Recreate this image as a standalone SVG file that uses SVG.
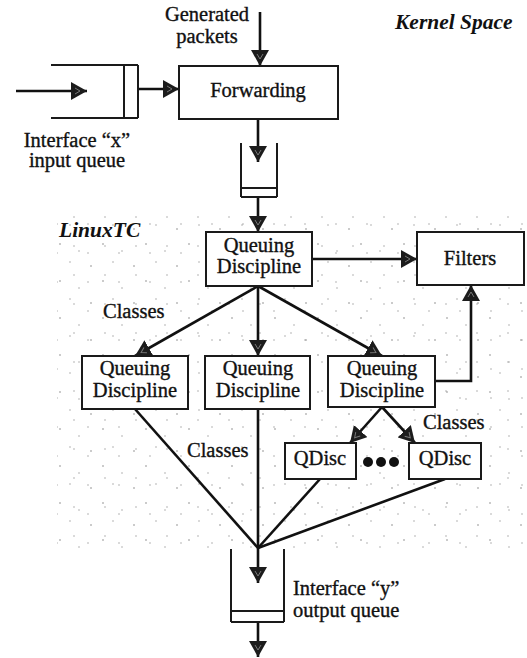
<svg xmlns="http://www.w3.org/2000/svg" width="527" height="658" viewBox="0 0 527 658">
  <style>
    .box { fill: #fff; stroke: #1a1a1a; stroke-width: 2; }
    .wire { fill: none; stroke: #111; stroke-width: 2.6; }
    .arrow { fill: none; stroke: #111; stroke-width: 2.6; marker-end: url(#head); }
    .qline { fill: none; stroke: #1a1a1a; stroke-width: 2; }
    .lbl { font-family: "Liberation Serif", "Times New Roman", serif; font-size: 20.5px; fill: #111; stroke: #111; stroke-width: 0.35; }
    .mid { text-anchor: middle; }
    .title { font-family: "Liberation Serif", "Times New Roman", serif; font-size: 21.5px; font-style: italic; font-weight: bold; fill: #111; }
  </style>
  <defs>
    <marker id="head" viewBox="0 0 16 18" refX="16" refY="9" markerWidth="16" markerHeight="18" markerUnits="userSpaceOnUse" orient="auto">
      <path d="M0,0 L16,9 L0,18 Z" fill="#1c1c1c"/>
      <path d="M4,6 L9,9 L4,12" fill="none" stroke="#777" stroke-width="1"/>
    </marker>
    <pattern id="stipA" width="43" height="37" patternUnits="userSpaceOnUse">
      <circle cx="5" cy="7" r="0.8" fill="#888"/>
      <circle cx="27" cy="3" r="0.7" fill="#999"/>
      <circle cx="17" cy="22" r="0.8" fill="#888"/>
      <circle cx="36" cy="29" r="0.7" fill="#999"/>
    </pattern>
    <pattern id="stipB" width="31" height="29" patternUnits="userSpaceOnUse">
      <circle cx="12" cy="14" r="0.7" fill="#999"/>
      <circle cx="26" cy="21" r="0.7" fill="#999"/>
    </pattern>
  </defs>

  <!-- speckled backdrop of the traffic-control area -->
  <g id="linuxtc-area">
    <rect x="57" y="215" width="470" height="338" fill="url(#stipA)"/>
    <rect x="57" y="215" width="470" height="338" fill="url(#stipB)"/>
  </g>

  <!-- titles -->
  <text class="title" x="395" y="29">Kernel Space</text>
  <text class="title" x="59" y="237">LinuxTC</text>

  <!-- connectors -->
  <g id="connectors">
    <path class="arrow" d="M16,91 H87"/>
    <path class="arrow" d="M138,89 H179"/>
    <path class="arrow" d="M260,12 V66"/>
    <path class="arrow" d="M258,119 V162"/>
    <path class="arrow" d="M258,197 V232"/>
    <path class="arrow" d="M312,259 H417"/>
    <path class="arrow" d="M258,286 L135,356"/>
    <path class="arrow" d="M258,286 V356"/>
    <path class="arrow" d="M258,286 L382,356"/>
    <path class="arrow" d="M435,381 H471 V285"/>
    <path class="arrow" d="M382,407 L350,443"/>
    <path class="arrow" d="M382,407 L415,443"/>
    <path class="wire" d="M135,409 L258,548"/>
    <path class="wire" d="M258,409 V548"/>
    <path class="wire" d="M320,479 L258,548"/>
    <path class="wire" d="M445,479 L258,548"/>
    <path class="arrow" d="M258,548 V583"/>
    <path class="arrow" d="M258,622 V657"/>
  </g>

  <!-- interface x input queue -->
  <g id="input-queue">
    <path class="qline" d="M51,65 H138 M51,118 H138 M124,65 V118 M138,65 V118"/>
    <text class="lbl mid" x="77" y="147">Interface “x”</text>
    <text class="lbl mid" x="77" y="167">input queue</text>
  </g>

  <g id="generated">
    <text class="lbl mid" x="207" y="21">Generated</text>
    <text class="lbl mid" x="207" y="43">packets</text>
  </g>

  <g id="forwarding">
    <rect class="box" x="179" y="66" width="159" height="53"/>
    <text class="lbl mid" x="258" y="97">Forwarding</text>
  </g>

  <g id="mid-queue">
    <path class="qline" d="M241,143 V197 M277,143 V197 M241,188 H277 M241,197 H277"/>
  </g>

  <g id="qdisc-root">
    <rect class="box" x="206" y="232" width="106" height="54"/>
    <text class="lbl mid" x="259" y="252">Queuing</text>
    <text class="lbl mid" x="259" y="273">Discipline</text>
  </g>

  <g id="filters">
    <rect class="box" x="417" y="232" width="107" height="53"/>
    <text class="lbl mid" x="470" y="265">Filters</text>
  </g>

  <text class="lbl" x="103" y="318">Classes</text>

  <g id="qdisc-left">
    <rect class="box" x="82" y="356" width="106" height="53"/>
    <text class="lbl mid" x="135" y="375">Queuing</text>
    <text class="lbl mid" x="135" y="397">Discipline</text>
  </g>

  <g id="qdisc-middle">
    <rect class="box" x="205" y="356" width="105" height="53"/>
    <text class="lbl mid" x="258" y="375">Queuing</text>
    <text class="lbl mid" x="258" y="397">Discipline</text>
  </g>

  <g id="qdisc-right">
    <rect class="box" x="328" y="356" width="107" height="51"/>
    <text class="lbl mid" x="382" y="375">Queuing</text>
    <text class="lbl mid" x="382" y="397">Discipline</text>
  </g>

  <text class="lbl" x="187" y="457">Classes</text>
  <text class="lbl" x="423" y="429">Classes</text>

  <g id="qdisc-a">
    <rect class="box" x="285" y="443" width="71" height="36"/>
    <text class="lbl mid" x="320" y="465">QDisc</text>
  </g>

  <g id="ellipsis">
    <circle cx="368" cy="462" r="5" fill="#111"/>
    <circle cx="381" cy="462" r="5" fill="#111"/>
    <circle cx="394" cy="462" r="5" fill="#111"/>
  </g>

  <g id="qdisc-b">
    <rect class="box" x="409" y="443" width="72" height="36"/>
    <text class="lbl mid" x="445" y="465">QDisc</text>
  </g>

  <g id="output-queue">
    <path class="qline" d="M231,549 V622 M284,549 V622 M231,611 H284 M231,622 H284"/>
    <text class="lbl" x="293" y="595">Interface “y”</text>
    <text class="lbl" x="293" y="617">output queue</text>
  </g>
</svg>
